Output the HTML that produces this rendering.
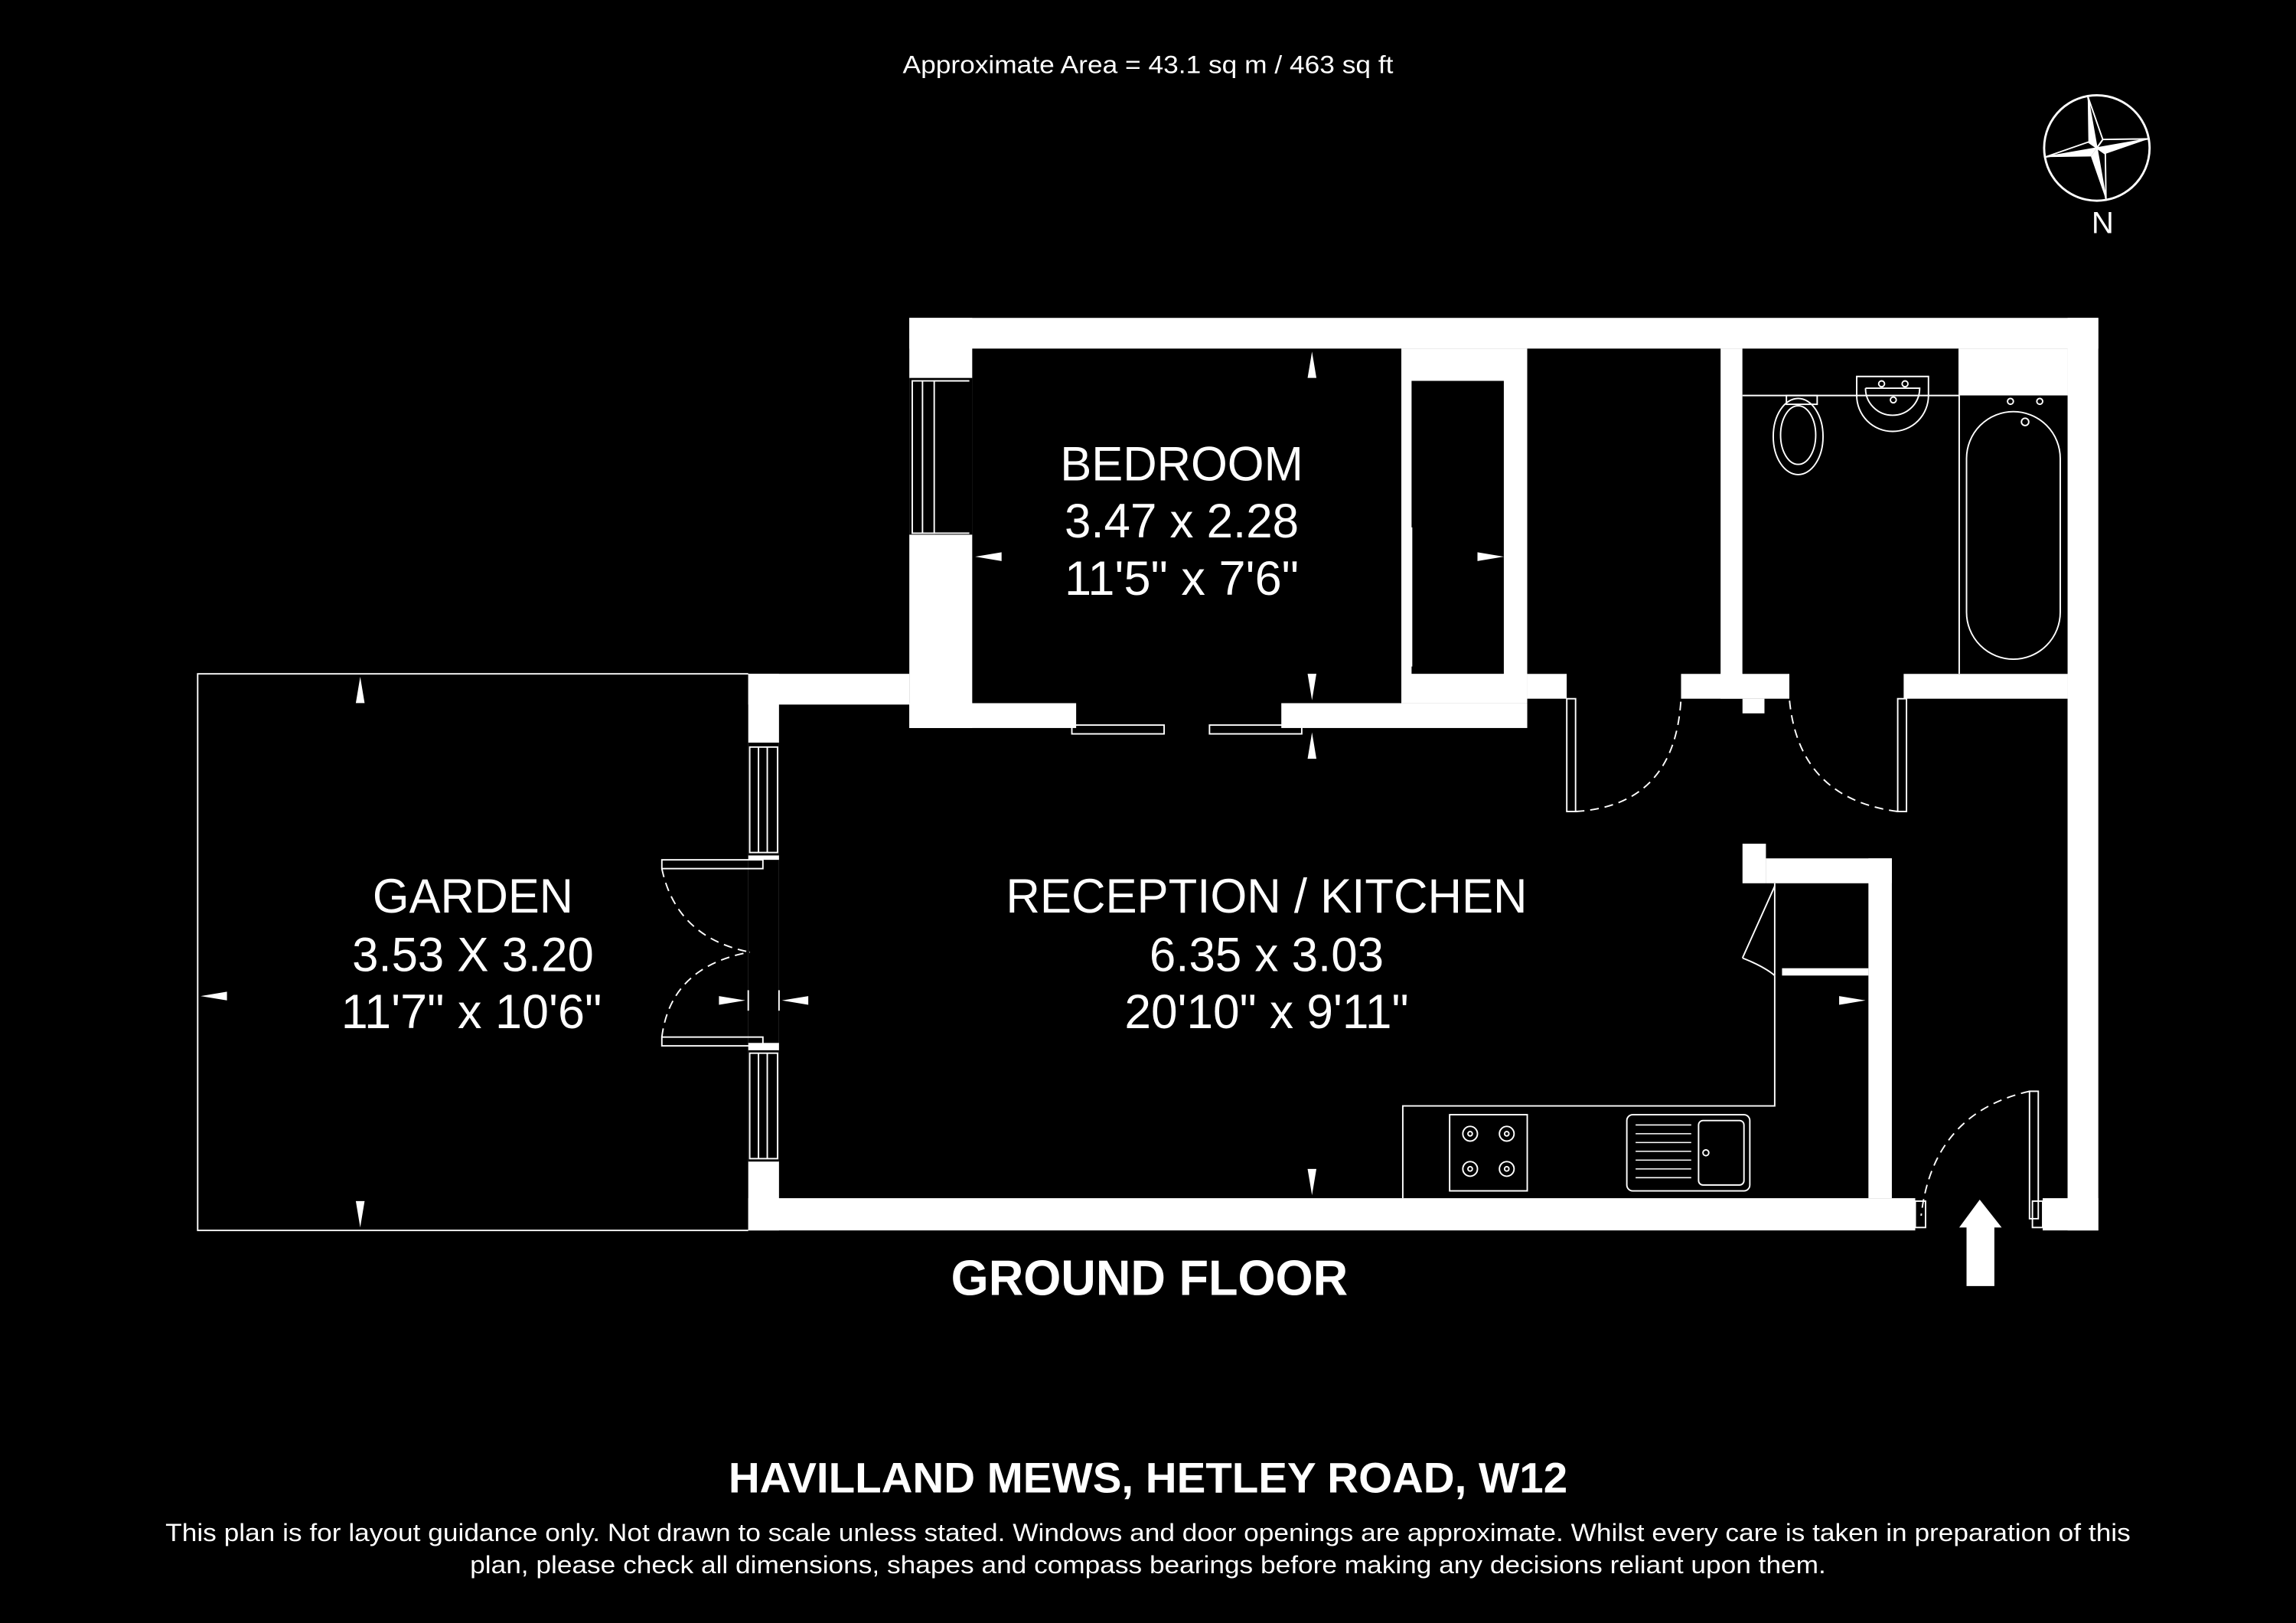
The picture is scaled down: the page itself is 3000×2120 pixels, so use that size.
<!DOCTYPE html>
<html><head><meta charset="utf-8"><style>
html,body{margin:0;padding:0;background:#000;}
svg{display:block;}
text{font-family:"Liberation Sans",Arial,sans-serif;fill:#fff;}
</style></head><body>
<svg width="3000" height="2120" viewBox="0 0 1568 1108" xmlns="http://www.w3.org/2000/svg">
<rect width="1568" height="1108" fill="#000"/>
<g fill="#fff">
<rect x="621" y="217" width="812" height="21"/>
<rect x="1412" y="217" width="21" height="623"/>
<rect x="621" y="217" width="43" height="280"/>
<rect x="511" y="460" width="110" height="21"/>
<rect x="621" y="480" width="114" height="17"/>
<rect x="875" y="480" width="168" height="17"/>
<rect x="957" y="238" width="86" height="242"/>
<rect x="1175" y="238" width="15" height="239"/>
<rect x="1043" y="460" width="27" height="17"/>
<rect x="1148" y="460" width="74" height="17"/>
<rect x="1190" y="477" width="15" height="10"/>
<rect x="1300" y="460" width="112" height="17"/>
<rect x="1338" y="238" width="74" height="32"/>
<rect x="511" y="460" width="21" height="380"/>
<rect x="511" y="818" width="797" height="22"/>
<rect x="1395" y="818" width="38" height="22"/>
<rect x="1190" y="576" width="16" height="27"/>
<rect x="1206" y="586" width="86" height="17"/>
<rect x="1276" y="586" width="16" height="232"/>
<rect x="1217" y="661" width="59" height="5"/>
</g>
<g fill="#000">
<rect x="664" y="238" width="293" height="242"/>
<rect x="964" y="260" width="63" height="200"/>
<rect x="1043" y="238" width="132" height="222"/>
<rect x="1190" y="238" width="148" height="222"/>
<rect x="1338" y="270" width="74" height="190"/>
<rect x="621" y="258" width="43" height="107"/>
<rect x="511" y="507" width="21" height="77"/>
<rect x="511" y="587" width="21" height="125"/>
<rect x="511" y="717" width="21" height="76"/>
<rect x="735" y="480" width="140" height="17"/>
<rect x="1070" y="460" width="78" height="17"/>
<rect x="1222" y="460" width="78" height="17"/>
<rect x="1308" y="818" width="87" height="22"/>
</g>
<g fill="none" stroke="#fff" stroke-width="1">
<rect x="623" y="260" width="15" height="104"/><line x1="630" y1="260" x2="630" y2="364"/><line x1="638" y1="260" x2="662" y2="260"/><line x1="638" y1="364" x2="662" y2="364"/>
<line x1="960" y1="265" x2="960" y2="360"/><line x1="964" y1="360" x2="964" y2="455"/><line x1="958" y1="360" x2="958" y2="455"/>
<rect x="512" y="510" width="19" height="72"/><line x1="518" y1="510" x2="518" y2="582"/><line x1="524" y1="510" x2="524" y2="582"/>
<rect x="512" y="719" width="19" height="72"/><line x1="518" y1="719" x2="518" y2="791"/><line x1="524" y1="719" x2="524" y2="791"/>
<rect x="452" y="587" width="69" height="6"/>
<rect x="452" y="708" width="69" height="6"/>
<path d="M452 593 Q462 640 512 650" stroke-dasharray="6 4"/>
<path d="M452 708 Q458 660 512 650" stroke-dasharray="6 4"/>
<polyline points="511,460 135,460 135,840 511,840"/>
<rect x="732" y="495" width="63" height="6"/>
<rect x="826" y="495" width="63" height="6"/>
<rect x="1070" y="477" width="6" height="77"/>
<path d="M1076 554 Q1144 550 1148 477" stroke-dasharray="6 4"/>
<rect x="1296" y="477" width="6" height="77"/>
<path d="M1296 554 Q1228 545 1222 477" stroke-dasharray="6 4"/>
<line x1="1212" y1="605" x2="1190" y2="654"/>
<path d="M1190 654 Q1205 660 1212 666"/>
<line x1="1212" y1="603" x2="1212" y2="666"/>
<polyline points="1212,666 1212,755 958,755 958,818"/>
<rect x="990" y="761" width="53" height="52"/>
<g>
<circle cx="1004" cy="774" r="5"/><circle cx="1029" cy="774" r="5"/><circle cx="1004" cy="798" r="5"/><circle cx="1029" cy="798" r="5"/>
<circle cx="1004" cy="774" r="1.5"/><circle cx="1029" cy="774" r="1.5"/><circle cx="1004" cy="798" r="1.5"/><circle cx="1029" cy="798" r="1.5"/>
</g>
<rect x="1111" y="761" width="84" height="52" rx="4"/>
<rect x="1160" y="765" width="31" height="44" rx="3"/>
<circle cx="1165" cy="787" r="2"/>
<g stroke-width="0.8"><line x1="1117" y1="768" x2="1155" y2="768"/><line x1="1117" y1="774" x2="1155" y2="774"/><line x1="1117" y1="780" x2="1155" y2="780"/><line x1="1117" y1="786" x2="1155" y2="786"/><line x1="1117" y1="792" x2="1155" y2="792"/><line x1="1117" y1="798" x2="1155" y2="798"/><line x1="1117" y1="804" x2="1155" y2="804"/></g>
<rect x="1386" y="745" width="6" height="87"/>
<path d="M1386 745 Q1320 760 1312 830" stroke-dasharray="6 4"/>
<rect x="1308" y="820" width="7" height="18"/>
<rect x="1388" y="820" width="7" height="18"/>
<line x1="1190" y1="270" x2="1338" y2="270"/>
<line x1="1338" y1="238" x2="1338" y2="460"/>
<rect x="1220" y="270" width="21" height="6"/>
<ellipse cx="1228" cy="298" rx="17" ry="26"/>
<ellipse cx="1228" cy="297" rx="12" ry="20"/>
<path d="M1268 270 L1268 257 L1317 257 L1317 270 A24 24 0 0 1 1268 270"/>
<path d="M1274 265 L1311 265 A18 18 0 0 1 1274 265"/>
<circle cx="1285" cy="262" r="2"/><circle cx="1301" cy="262" r="2"/><circle cx="1293" cy="273" r="2"/>
<rect x="1343" y="281" width="64" height="169" rx="32"/>
<circle cx="1373" cy="274" r="2"/><circle cx="1393" cy="274" r="2"/><circle cx="1383" cy="288" r="2.5"/>
</g>
<g fill="#fff">
<polygon points="896,240 893,258 899,258"/>
<polygon points="896,478 893,460 899,460"/>
<polygon points="896,500 893,518 899,518"/>
<polygon points="896,816 893,798 899,798"/>
<polygon points="666,380 684,377 684,383"/>
<polygon points="1027,380 1009,377 1009,383"/>
<polygon points="246,462 243,480 249,480"/>
<polygon points="246,838 243,820 249,820"/>
<polygon points="137,680 155,677 155,683"/>
<polygon points="509,683 491,680 491,686"/>
<polygon points="534,683 552,680 552,686"/>
<polygon points="1274,683 1256,680 1256,686"/>
<polygon points="1352,819 1338,838 1343,838 1343,878 1362,878 1362,838 1367,838"/>
</g>
<g stroke="#fff" stroke-width="1"><line x1="511" y1="676" x2="511" y2="690"/><line x1="532" y1="676" x2="532" y2="690"/></g>
<g transform="translate(1432,101) rotate(-10)">
<circle r="36" fill="none" stroke="#fff" stroke-width="1.5"/>
<polygon points="0,-36 -5,-5 0,0" fill="#fff"/>
<polygon points="36,0 5,5 0,0" fill="#fff"/>
<polygon points="36,0 5,-5 0,0" fill="none" stroke="#fff"/>
<polygon points="0,36 -5,5 0,0" fill="#fff"/>
<polygon points="0,36 5,5 0,0" fill="none" stroke="#fff"/>
<polygon points="-36,0 -5,5 0,0" fill="#fff"/>
<polygon points="-36,0 -5,-5 0,0" fill="none" stroke="#fff"/>
<polygon points="0,-36 5,-5 0,0" fill="none" stroke="#fff"/>
</g>
<text x="1436" y="159" font-size="21" text-anchor="middle">N</text>
<text x="784" y="50" font-size="17" text-anchor="middle" textLength="335" lengthAdjust="spacingAndGlyphs">Approximate Area = 43.1 sq m / 463 sq ft</text>
<g font-size="33" text-anchor="middle">
<text x="807" y="328" textLength="166" lengthAdjust="spacingAndGlyphs">BEDROOM</text>
<text x="807" y="367" textLength="160" lengthAdjust="spacingAndGlyphs">3.47 x 2.28</text>
<text x="807" y="406" textLength="160" lengthAdjust="spacingAndGlyphs">11'5" x 7'6"</text>
<text x="323" y="623" textLength="137" lengthAdjust="spacingAndGlyphs">GARDEN</text>
<text x="323" y="663" textLength="165" lengthAdjust="spacingAndGlyphs">3.53 X 3.20</text>
<text x="322" y="702" textLength="178" lengthAdjust="spacingAndGlyphs">11'7" x 10'6"</text>
<text x="865" y="623" textLength="356" lengthAdjust="spacingAndGlyphs">RECEPTION / KITCHEN</text>
<text x="865" y="663" textLength="160" lengthAdjust="spacingAndGlyphs">6.35 x 3.03</text>
<text x="865" y="702" textLength="194" lengthAdjust="spacingAndGlyphs">20'10" x 9'11"</text>
</g>
<text x="785" y="884" font-size="34" font-weight="bold" text-anchor="middle" textLength="271" lengthAdjust="spacingAndGlyphs">GROUND FLOOR</text>
<text x="784" y="1019" font-size="29" font-weight="bold" text-anchor="middle" textLength="573" lengthAdjust="spacingAndGlyphs">HAVILLAND MEWS, HETLEY ROAD, W12</text>
<text x="784" y="1052" font-size="17" text-anchor="middle" textLength="1342" lengthAdjust="spacingAndGlyphs">This plan is for layout guidance only. Not drawn to scale unless stated. Windows and door openings are approximate. Whilst every care is taken in preparation of this</text>
<text x="784" y="1074" font-size="17" text-anchor="middle" textLength="926" lengthAdjust="spacingAndGlyphs">plan, please check all dimensions, shapes and compass bearings before making any decisions reliant upon them.</text>
</svg>
</body></html>
